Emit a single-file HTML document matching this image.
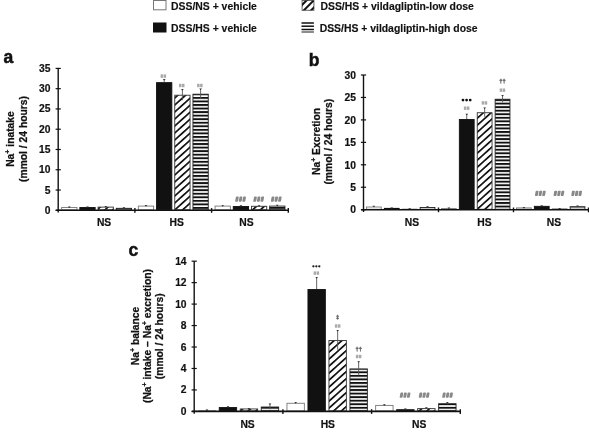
<!DOCTYPE html>
<html><head><meta charset="utf-8"><style>
html,body{margin:0;padding:0;background:#fff;}
body{width:589px;height:432px;overflow:hidden;}
svg{display:block;will-change:transform;}
text{font-family:"Liberation Sans", sans-serif;font-weight:bold;fill:#111;}
.t{font-size:10.3px;stroke:#111;stroke-width:0.2px;}
.L{font-size:10.4px;stroke:#111;stroke-width:0.15px;}
.P{font-size:17.5px;stroke:#111;stroke-width:0.5px;}
.A{font-size:10.3px;stroke:#111;stroke-width:0.25px;}
.S{fill:#666;font-weight:bold;font-style:italic;stroke:#777;stroke-width:0.3px;}
.St{fill:#333;font-weight:bold;}
.M{fill:#555;font-size:5.8px;font-weight:bold;stroke:#666;stroke-width:0.35px;}
</style></head><body>
<svg width="589" height="432" viewBox="0 0 589 432">
<defs>
<pattern id="hatch" patternUnits="userSpaceOnUse" width="10" height="5.2" patternTransform="rotate(-42)"><rect x="0" y="0" width="10" height="1.7" fill="#111"/></pattern><pattern id="hatchA" patternUnits="userSpaceOnUse" width="10" height="5.2" patternTransform="translate(0,2.3) rotate(-42)"><rect x="0" y="0" width="10" height="1.7" fill="#111"/></pattern><pattern id="hatchB" patternUnits="userSpaceOnUse" width="10" height="5.2" patternTransform="translate(0,1.0) rotate(-42)"><rect x="0" y="0" width="10" height="1.7" fill="#111"/></pattern><pattern id="hatchC" patternUnits="userSpaceOnUse" width="10" height="5.2" patternTransform="translate(0,-3.5) rotate(-42)"><rect x="0" y="0" width="10" height="1.7" fill="#111"/></pattern><pattern id="stripeA" patternUnits="userSpaceOnUse" width="10" height="3.55" patternTransform="translate(0,1.1)"><rect x="0" y="0" width="10" height="1.9" fill="#111"/></pattern><pattern id="stripeB" patternUnits="userSpaceOnUse" width="10" height="3.55" patternTransform="translate(0,3.25)"><rect x="0" y="0" width="10" height="1.9" fill="#111"/></pattern><pattern id="stripeC" patternUnits="userSpaceOnUse" width="10" height="3.55" patternTransform="translate(0,2.15)"><rect x="0" y="0" width="10" height="1.9" fill="#111"/></pattern><pattern id="stripe" patternUnits="userSpaceOnUse" width="10" height="3.5"><rect x="0" y="0" width="10" height="1.9" fill="#111"/></pattern><pattern id="hatchL" patternUnits="userSpaceOnUse" width="10" height="4.6" patternTransform="rotate(-45)"><rect x="0" y="0" width="10" height="1.7" fill="#111"/></pattern><pattern id="stripeL" patternUnits="userSpaceOnUse" width="10" height="3.3" patternTransform="translate(0,0.6)"><rect x="0" y="0" width="10" height="1.7" fill="#111"/></pattern>
</defs>
<rect x="61.65" y="207.51" width="15.3" height="2.34" fill="#fff" stroke="#777" stroke-width="0.9"/>
<line x1="69.3" y1="207.26" x2="69.3" y2="206.85" stroke="#555" stroke-width="0.9"/>
<path d="M67.9,206.55 L70.7,206.55 L69.3,208.05 Z" fill="#333"/>
<rect x="79.85" y="207.51" width="15.3" height="2.34" fill="#111" stroke="#111" stroke-width="0.9"/>
<line x1="87.5" y1="207.06" x2="87.5" y2="206.85" stroke="#555" stroke-width="0.9"/>
<path d="M86.1,206.55 L88.9,206.55 L87.5,208.05 Z" fill="#333"/>
<rect x="98.05" y="207.1" width="15.3" height="2.75" fill="url(#hatchA)" stroke="#333" stroke-width="0.9"/>
<line x1="105.7" y1="207.06" x2="105.7" y2="206.25" stroke="#555" stroke-width="0.9"/>
<path d="M104.3,205.95 L107.1,205.95 L105.7,207.45 Z" fill="#333"/>
<rect x="116.25" y="208.32" width="15.3" height="1.53" fill="url(#stripeA)" stroke="#222" stroke-width="0.9"/>
<line x1="123.9" y1="208.27" x2="123.9" y2="207.46" stroke="#555" stroke-width="0.9"/>
<path d="M122.5,207.16 L125.3,207.16 L123.9,208.66 Z" fill="#333"/>
<rect x="138.35" y="206.09" width="15.3" height="3.76" fill="#fff" stroke="#777" stroke-width="0.9"/>
<line x1="146" y1="206.04" x2="146" y2="205.23" stroke="#555" stroke-width="0.9"/>
<path d="M144.6,204.93 L147.4,204.93 L146,206.43 Z" fill="#333"/>
<rect x="156.55" y="82.64" width="15.3" height="127.21" fill="#111" stroke="#111" stroke-width="0.9"/>
<line x1="164.2" y1="82.19" x2="164.2" y2="79.36" stroke="#555" stroke-width="0.9"/>
<path d="M162.8,79.06 L165.6,79.06 L164.2,80.56 Z" fill="#333"/>
<rect x="174.75" y="95.21" width="15.3" height="114.64" fill="url(#hatchA)" stroke="#333" stroke-width="0.9"/>
<line x1="182.4" y1="100.23" x2="182.4" y2="89.29" stroke="#555" stroke-width="0.9"/>
<path d="M181,88.99 L183.8,88.99 L182.4,90.49 Z" fill="#333"/>
<rect x="192.95" y="94.2" width="15.3" height="115.65" fill="url(#stripeA)" stroke="#222" stroke-width="0.9"/>
<line x1="200.6" y1="98.61" x2="200.6" y2="88.88" stroke="#555" stroke-width="0.9"/>
<path d="M199.2,88.58 L202,88.58 L200.6,90.08 Z" fill="#333"/>
<rect x="215.05" y="206.09" width="15.3" height="3.76" fill="#fff" stroke="#777" stroke-width="0.9"/>
<line x1="222.7" y1="205.84" x2="222.7" y2="205.44" stroke="#555" stroke-width="0.9"/>
<path d="M221.3,205.14 L224.1,205.14 L222.7,206.64 Z" fill="#333"/>
<rect x="233.25" y="206.49" width="15.3" height="3.36" fill="#111" stroke="#111" stroke-width="0.9"/>
<line x1="240.9" y1="206.04" x2="240.9" y2="205.64" stroke="#555" stroke-width="0.9"/>
<path d="M239.5,205.34 L242.3,205.34 L240.9,206.84 Z" fill="#333"/>
<rect x="251.45" y="206.29" width="15.3" height="3.56" fill="url(#hatchA)" stroke="#333" stroke-width="0.9"/>
<line x1="259.1" y1="206.25" x2="259.1" y2="205.44" stroke="#555" stroke-width="0.9"/>
<path d="M257.7,205.14 L260.5,205.14 L259.1,206.64 Z" fill="#333"/>
<rect x="269.65" y="206.09" width="15.3" height="3.76" fill="url(#stripeA)" stroke="#222" stroke-width="0.9"/>
<line x1="277.3" y1="206.25" x2="277.3" y2="205.03" stroke="#555" stroke-width="0.9"/>
<path d="M275.9,204.73 L278.7,204.73 L277.3,206.23 Z" fill="#333"/>
<line x1="58.2" y1="68.41" x2="58.2" y2="212.6" stroke="#111" stroke-width="1.4"/>
<line x1="55.7" y1="210.3" x2="288.3" y2="210.3" stroke="#111" stroke-width="1.6"/>
<line x1="134.9" y1="208.1" x2="134.9" y2="212.8" stroke="#111" stroke-width="1.4"/>
<line x1="211.6" y1="208.1" x2="211.6" y2="212.8" stroke="#111" stroke-width="1.4"/>
<line x1="288.3" y1="208.1" x2="288.3" y2="212.8" stroke="#111" stroke-width="1.4"/>
<line x1="55.6" y1="210.3" x2="60.8" y2="210.3" stroke="#111" stroke-width="1.2"/>
<text x="50.5" y="213.8" text-anchor="end" class="t">0</text>
<line x1="55.6" y1="190.03" x2="60.8" y2="190.03" stroke="#111" stroke-width="1.2"/>
<text x="50.5" y="193.53" text-anchor="end" class="t">5</text>
<line x1="55.6" y1="169.76" x2="60.8" y2="169.76" stroke="#111" stroke-width="1.2"/>
<text x="50.5" y="173.26" text-anchor="end" class="t">10</text>
<line x1="55.6" y1="149.49" x2="60.8" y2="149.49" stroke="#111" stroke-width="1.2"/>
<text x="50.5" y="152.99" text-anchor="end" class="t">15</text>
<line x1="55.6" y1="129.22" x2="60.8" y2="129.22" stroke="#111" stroke-width="1.2"/>
<text x="50.5" y="132.72" text-anchor="end" class="t">20</text>
<line x1="55.6" y1="108.95" x2="60.8" y2="108.95" stroke="#111" stroke-width="1.2"/>
<text x="50.5" y="112.45" text-anchor="end" class="t">25</text>
<line x1="55.6" y1="88.68" x2="60.8" y2="88.68" stroke="#111" stroke-width="1.2"/>
<text x="50.5" y="92.18" text-anchor="end" class="t">30</text>
<line x1="55.6" y1="68.41" x2="60.8" y2="68.41" stroke="#111" stroke-width="1.2"/>
<text x="50.5" y="71.91" text-anchor="end" class="t">35</text>
<text x="104.1" y="225.9" text-anchor="middle" class="t">NS</text>
<text x="176.7" y="225.9" text-anchor="middle" class="t">HS</text>
<text x="246.5" y="225.9" text-anchor="middle" class="t">NS</text>
<rect x="366.45" y="207.01" width="14.8" height="2.24" fill="#fff" stroke="#777" stroke-width="0.9"/>
<line x1="373.85" y1="207.01" x2="373.85" y2="206.11" stroke="#555" stroke-width="0.9"/>
<path d="M372.45,205.81 L375.25,205.81 L373.85,207.31 Z" fill="#333"/>
<rect x="384.35" y="208.35" width="14.8" height="0.9" fill="#111" stroke="#111" stroke-width="0.9"/>
<line x1="391.75" y1="207.9" x2="391.75" y2="207.68" stroke="#555" stroke-width="0.9"/>
<path d="M390.35,207.38 L393.15,207.38 L391.75,208.88 Z" fill="#333"/>
<rect x="402.25" y="209.25" width="14.8" height="0.1" fill="url(#hatchB)" stroke="#333" stroke-width="0.9"/>
<line x1="409.65" y1="209.03" x2="409.65" y2="208.58" stroke="#555" stroke-width="0.9"/>
<path d="M408.25,208.28 L411.05,208.28 L409.65,209.78 Z" fill="#333"/>
<rect x="420.15" y="207.46" width="14.8" height="1.79" fill="url(#stripeB)" stroke="#222" stroke-width="0.9"/>
<line x1="427.55" y1="207.46" x2="427.55" y2="206.56" stroke="#555" stroke-width="0.9"/>
<path d="M426.15,206.26 L428.95,206.26 L427.55,207.76 Z" fill="#333"/>
<rect x="441.45" y="208.58" width="14.8" height="0.67" fill="#fff" stroke="#777" stroke-width="0.9"/>
<line x1="448.85" y1="208.35" x2="448.85" y2="207.9" stroke="#555" stroke-width="0.9"/>
<path d="M447.45,207.6 L450.25,207.6 L448.85,209.1 Z" fill="#333"/>
<rect x="459.35" y="119.45" width="14.8" height="89.8" fill="#111" stroke="#111" stroke-width="0.9"/>
<line x1="466.75" y1="119" x2="466.75" y2="114.06" stroke="#555" stroke-width="0.9"/>
<path d="M465.35,113.76 L468.15,113.76 L466.75,115.26 Z" fill="#333"/>
<rect x="477.25" y="112.72" width="14.8" height="96.53" fill="url(#hatchB)" stroke="#333" stroke-width="0.9"/>
<line x1="484.65" y1="116.76" x2="484.65" y2="107.78" stroke="#555" stroke-width="0.9"/>
<path d="M483.25,107.48 L486.05,107.48 L484.65,108.98 Z" fill="#333"/>
<rect x="495.15" y="99.25" width="14.8" height="110" fill="url(#stripeB)" stroke="#222" stroke-width="0.9"/>
<line x1="502.55" y1="102.39" x2="502.55" y2="95.2" stroke="#555" stroke-width="0.9"/>
<path d="M501.15,94.9 L503.95,94.9 L502.55,96.4 Z" fill="#333"/>
<rect x="516.45" y="207.9" width="14.8" height="1.35" fill="#fff" stroke="#777" stroke-width="0.9"/>
<line x1="523.85" y1="207.68" x2="523.85" y2="207.23" stroke="#555" stroke-width="0.9"/>
<path d="M522.45,206.93 L525.25,206.93 L523.85,208.43 Z" fill="#333"/>
<rect x="534.35" y="206.33" width="14.8" height="2.92" fill="#111" stroke="#111" stroke-width="0.9"/>
<line x1="541.75" y1="205.88" x2="541.75" y2="205.66" stroke="#555" stroke-width="0.9"/>
<path d="M540.35,205.36 L543.15,205.36 L541.75,206.86 Z" fill="#333"/>
<rect x="552.25" y="209.03" width="14.8" height="0.22" fill="url(#hatchB)" stroke="#333" stroke-width="0.9"/>
<line x1="559.65" y1="208.8" x2="559.65" y2="208.35" stroke="#555" stroke-width="0.9"/>
<path d="M558.25,208.05 L561.05,208.05 L559.65,209.55 Z" fill="#333"/>
<rect x="570.15" y="206.74" width="14.8" height="2.51" fill="url(#stripeB)" stroke="#222" stroke-width="0.9"/>
<line x1="577.55" y1="206.69" x2="577.55" y2="205.88" stroke="#555" stroke-width="0.9"/>
<path d="M576.15,205.58 L578.95,205.58 L577.55,207.08 Z" fill="#333"/>
<line x1="363.5" y1="75" x2="363.5" y2="212" stroke="#111" stroke-width="1.4"/>
<line x1="361" y1="209.7" x2="588.5" y2="209.7" stroke="#111" stroke-width="1.6"/>
<line x1="438.5" y1="207.5" x2="438.5" y2="212.2" stroke="#111" stroke-width="1.4"/>
<line x1="513.5" y1="207.5" x2="513.5" y2="212.2" stroke="#111" stroke-width="1.4"/>
<line x1="588.5" y1="207.5" x2="588.5" y2="212.2" stroke="#111" stroke-width="1.4"/>
<line x1="360.9" y1="209.7" x2="366.1" y2="209.7" stroke="#111" stroke-width="1.2"/>
<text x="356" y="213.4" text-anchor="end" class="t">0</text>
<line x1="360.9" y1="187.25" x2="366.1" y2="187.25" stroke="#111" stroke-width="1.2"/>
<text x="356" y="190.95" text-anchor="end" class="t">5</text>
<line x1="360.9" y1="164.8" x2="366.1" y2="164.8" stroke="#111" stroke-width="1.2"/>
<text x="356" y="168.5" text-anchor="end" class="t">10</text>
<line x1="360.9" y1="142.35" x2="366.1" y2="142.35" stroke="#111" stroke-width="1.2"/>
<text x="356" y="146.05" text-anchor="end" class="t">15</text>
<line x1="360.9" y1="119.9" x2="366.1" y2="119.9" stroke="#111" stroke-width="1.2"/>
<text x="356" y="123.6" text-anchor="end" class="t">20</text>
<line x1="360.9" y1="97.45" x2="366.1" y2="97.45" stroke="#111" stroke-width="1.2"/>
<text x="356" y="101.15" text-anchor="end" class="t">25</text>
<line x1="360.9" y1="75" x2="366.1" y2="75" stroke="#111" stroke-width="1.2"/>
<text x="356" y="78.7" text-anchor="end" class="t">30</text>
<text x="412" y="225.9" text-anchor="middle" class="t">NS</text>
<text x="484.4" y="225.9" text-anchor="middle" class="t">HS</text>
<text x="553.9" y="225.9" text-anchor="middle" class="t">NS</text>
<rect x="198.25" y="410.78" width="17.4" height="0.17" fill="#fff" stroke="#777" stroke-width="0.9"/>
<line x1="206.95" y1="410.86" x2="206.95" y2="409.79" stroke="#555" stroke-width="0.9"/>
<path d="M205.55,409.49 L208.35,409.49 L206.95,410.99 Z" fill="#333"/>
<rect x="219.25" y="407.56" width="17.4" height="3.39" fill="#111" stroke="#111" stroke-width="0.9"/>
<line x1="227.95" y1="407.11" x2="227.95" y2="406.57" stroke="#555" stroke-width="0.9"/>
<path d="M226.55,406.27 L229.35,406.27 L227.95,407.77 Z" fill="#333"/>
<rect x="240.25" y="408.95" width="17.4" height="2" fill="url(#hatchC)" stroke="#333" stroke-width="0.9"/>
<line x1="248.95" y1="408.82" x2="248.95" y2="408.18" stroke="#555" stroke-width="0.9"/>
<path d="M247.55,407.88 L250.35,407.88 L248.95,409.38 Z" fill="#333"/>
<rect x="261.25" y="407.02" width="17.4" height="3.93" fill="url(#stripeC)" stroke="#222" stroke-width="0.9"/>
<line x1="269.95" y1="409.25" x2="269.95" y2="403.89" stroke="#555" stroke-width="0.9"/>
<path d="M268.55,403.59 L271.35,403.59 L269.95,405.09 Z" fill="#333"/>
<rect x="286.95" y="403.27" width="17.4" height="7.68" fill="#fff" stroke="#777" stroke-width="0.9"/>
<line x1="295.65" y1="403.35" x2="295.65" y2="402.28" stroke="#555" stroke-width="0.9"/>
<path d="M294.25,401.98 L297.05,401.98 L295.65,403.48 Z" fill="#333"/>
<rect x="307.95" y="289.53" width="17.4" height="121.42" fill="#111" stroke="#111" stroke-width="0.9"/>
<line x1="316.65" y1="289.08" x2="316.65" y2="277.27" stroke="#555" stroke-width="0.9"/>
<path d="M315.25,276.97 L318.05,276.97 L316.65,278.47 Z" fill="#333"/>
<rect x="328.95" y="340.5" width="17.4" height="70.45" fill="url(#hatchC)" stroke="#333" stroke-width="0.9"/>
<line x1="337.65" y1="349.7" x2="337.65" y2="330.39" stroke="#555" stroke-width="0.9"/>
<path d="M336.25,330.09 L339.05,330.09 L337.65,331.59 Z" fill="#333"/>
<rect x="349.95" y="368.93" width="17.4" height="42.02" fill="url(#stripeC)" stroke="#222" stroke-width="0.9"/>
<line x1="358.65" y1="375.45" x2="358.65" y2="361.51" stroke="#555" stroke-width="0.9"/>
<path d="M357.25,361.21 L360.05,361.21 L358.65,362.71 Z" fill="#333"/>
<rect x="375.65" y="405.41" width="17.4" height="5.54" fill="#fff" stroke="#777" stroke-width="0.9"/>
<line x1="384.35" y1="405.5" x2="384.35" y2="404.43" stroke="#555" stroke-width="0.9"/>
<path d="M382.95,404.13 L385.75,404.13 L384.35,405.63 Z" fill="#333"/>
<rect x="396.65" y="409.7" width="17.4" height="1.25" fill="#111" stroke="#111" stroke-width="0.9"/>
<line x1="405.35" y1="409.25" x2="405.35" y2="408.72" stroke="#555" stroke-width="0.9"/>
<path d="M403.95,408.42 L406.75,408.42 L405.35,409.92 Z" fill="#333"/>
<rect x="417.65" y="408.63" width="17.4" height="2.32" fill="url(#hatchC)" stroke="#333" stroke-width="0.9"/>
<line x1="426.35" y1="408.72" x2="426.35" y2="407.64" stroke="#555" stroke-width="0.9"/>
<path d="M424.95,407.34 L427.75,407.34 L426.35,408.84 Z" fill="#333"/>
<rect x="438.65" y="403.7" width="17.4" height="7.25" fill="url(#stripeC)" stroke="#222" stroke-width="0.9"/>
<line x1="447.35" y1="404.21" x2="447.35" y2="402.28" stroke="#555" stroke-width="0.9"/>
<path d="M445.95,401.98 L448.75,401.98 L447.35,403.48 Z" fill="#333"/>
<line x1="194.2" y1="261.18" x2="194.2" y2="413.7" stroke="#111" stroke-width="1.4"/>
<line x1="191.7" y1="411.4" x2="460.3" y2="411.4" stroke="#111" stroke-width="1.6"/>
<line x1="282.9" y1="409.2" x2="282.9" y2="413.9" stroke="#111" stroke-width="1.4"/>
<line x1="371.6" y1="409.2" x2="371.6" y2="413.9" stroke="#111" stroke-width="1.4"/>
<line x1="460.3" y1="409.2" x2="460.3" y2="413.9" stroke="#111" stroke-width="1.4"/>
<line x1="191.6" y1="411.4" x2="196.8" y2="411.4" stroke="#111" stroke-width="1.2"/>
<text x="186.6" y="414.9" text-anchor="end" class="t">0</text>
<line x1="191.6" y1="389.94" x2="196.8" y2="389.94" stroke="#111" stroke-width="1.2"/>
<text x="186.6" y="393.44" text-anchor="end" class="t">2</text>
<line x1="191.6" y1="368.48" x2="196.8" y2="368.48" stroke="#111" stroke-width="1.2"/>
<text x="186.6" y="371.98" text-anchor="end" class="t">4</text>
<line x1="191.6" y1="347.02" x2="196.8" y2="347.02" stroke="#111" stroke-width="1.2"/>
<text x="186.6" y="350.52" text-anchor="end" class="t">6</text>
<line x1="191.6" y1="325.56" x2="196.8" y2="325.56" stroke="#111" stroke-width="1.2"/>
<text x="186.6" y="329.06" text-anchor="end" class="t">8</text>
<line x1="191.6" y1="304.1" x2="196.8" y2="304.1" stroke="#111" stroke-width="1.2"/>
<text x="186.6" y="307.6" text-anchor="end" class="t">10</text>
<line x1="191.6" y1="282.64" x2="196.8" y2="282.64" stroke="#111" stroke-width="1.2"/>
<text x="186.6" y="286.14" text-anchor="end" class="t">12</text>
<line x1="191.6" y1="261.18" x2="196.8" y2="261.18" stroke="#111" stroke-width="1.2"/>
<text x="186.6" y="264.68" text-anchor="end" class="t">14</text>
<text x="247.6" y="428" text-anchor="middle" class="t">NS</text>
<text x="327.8" y="428" text-anchor="middle" class="t">HS</text>
<text x="419.2" y="428" text-anchor="middle" class="t">NS</text>
<rect x="153.5" y="0.5" width="12.5" height="9.3" fill="#fff" stroke="#777" stroke-width="1"/>
<rect x="153.5" y="23" width="12.5" height="9" fill="#111" stroke="#111" stroke-width="1"/>
<clipPath id="lgc"><rect x="302.1" y="0.5" width="11.8" height="9.8"/></clipPath>
<rect x="302.1" y="0.5" width="11.8" height="9.8" fill="#fff" stroke="#666" stroke-width="1"/>
<g clip-path="url(#lgc)" stroke="#111" stroke-width="2"><line x1="295" y1="12" x2="309" y2="-2"/><line x1="302.2" y1="12" x2="316.2" y2="-2"/><line x1="309.4" y1="12" x2="323.4" y2="-2"/></g>
<line x1="301.5" y1="23.0" x2="313.9" y2="23.0" stroke="#111" stroke-width="1.5"/>
<line x1="301.5" y1="26.2" x2="313.9" y2="26.2" stroke="#111" stroke-width="1.5"/>
<line x1="301.5" y1="29.5" x2="313.9" y2="29.5" stroke="#111" stroke-width="1.5"/>
<line x1="301.5" y1="32.0" x2="313.9" y2="32.0" stroke="#666" stroke-width="1.5"/>
<text x="171.1" y="9.9" class="L">DSS/NS + vehicle</text>
<text x="171.1" y="31.8" class="L">DSS/HS + vehicle</text>
<text x="320.5" y="9.6" class="L">DSS/HS + vildagliptin-low dose</text>
<text x="319.7" y="31.9" class="L">DSS/HS + vildagliptin-high dose</text>
<text x="3.6" y="62.6" class="P">a</text>
<text x="308.7" y="65.9" class="P">b</text>
<text x="128.5" y="256.2" class="P">c</text>
<text transform="translate(14,139) rotate(-90)" text-anchor="middle" class="A">Na<tspan font-size="7" dy="-4">+</tspan><tspan dy="4"> inatake</tspan></text>
<text transform="translate(26.5,139) rotate(-90)" text-anchor="middle" class="A">(mmol / 24 hours)</text>
<text transform="translate(319.5,141.5) rotate(-90)" text-anchor="middle" class="A">Na<tspan font-size="7" dy="-4">+</tspan><tspan dy="4"> Excretion</tspan></text>
<text transform="translate(331.5,141.7) rotate(-90)" text-anchor="middle" class="A">(mmol / 24 hours)</text>
<text transform="translate(138.5,336) rotate(-90)" text-anchor="middle" class="A">Na<tspan font-size="7" dy="-4">+</tspan><tspan dy="4"> balance</tspan></text>
<text transform="translate(151,336) rotate(-90)" text-anchor="middle" class="A">(Na<tspan font-size="7" dy="-4">+</tspan><tspan dy="4"> intake – Na</tspan><tspan font-size="7" dy="-4">+</tspan><tspan dy="4"> excretion)</tspan></text>
<text transform="translate(163,336.3) rotate(-90)" text-anchor="middle" class="A">(mmol / 24 hours)</text>
<rect x="160.6" y="74.4" width="2.5" height="3.4" fill="#aaa"/>
<rect x="163.6" y="74.4" width="2.5" height="3.4" fill="#aaa"/>
<rect x="179" y="83.8" width="2.5" height="3.4" fill="#aaa"/>
<rect x="182" y="83.8" width="2.5" height="3.4" fill="#aaa"/>
<rect x="197.1" y="83.8" width="2.5" height="3.4" fill="#aaa"/>
<rect x="200.1" y="83.8" width="2.5" height="3.4" fill="#aaa"/>
<rect x="235.5" y="196.6" width="2.9" height="5.2" rx="0.8" fill="#888" transform="translate(236.95,199.2) skewX(-10) translate(-236.95,-199.2)"/>
<rect x="239.1" y="196.6" width="2.9" height="5.2" rx="0.8" fill="#888" transform="translate(240.55,199.2) skewX(-10) translate(-240.55,-199.2)"/>
<rect x="242.7" y="196.6" width="2.9" height="5.2" rx="0.8" fill="#888" transform="translate(244.15,199.2) skewX(-10) translate(-244.15,-199.2)"/>
<rect x="253.6" y="196.6" width="2.9" height="5.2" rx="0.8" fill="#888" transform="translate(255.05,199.2) skewX(-10) translate(-255.05,-199.2)"/>
<rect x="257.2" y="196.6" width="2.9" height="5.2" rx="0.8" fill="#888" transform="translate(258.65,199.2) skewX(-10) translate(-258.65,-199.2)"/>
<rect x="260.8" y="196.6" width="2.9" height="5.2" rx="0.8" fill="#888" transform="translate(262.25,199.2) skewX(-10) translate(-262.25,-199.2)"/>
<rect x="271.2" y="196.6" width="2.9" height="5.2" rx="0.8" fill="#888" transform="translate(272.65,199.2) skewX(-10) translate(-272.65,-199.2)"/>
<rect x="274.8" y="196.6" width="2.9" height="5.2" rx="0.8" fill="#888" transform="translate(276.25,199.2) skewX(-10) translate(-276.25,-199.2)"/>
<rect x="278.4" y="196.6" width="2.9" height="5.2" rx="0.8" fill="#888" transform="translate(279.85,199.2) skewX(-10) translate(-279.85,-199.2)"/>
<circle cx="463.0" cy="100.1" r="1.4" fill="#111"/>
<circle cx="466.6" cy="100.1" r="1.4" fill="#111"/>
<circle cx="470.2" cy="100.1" r="1.4" fill="#111"/>
<rect x="463.9" y="106.5" width="2.5" height="3.4" fill="#aaa"/>
<rect x="466.9" y="106.5" width="2.5" height="3.4" fill="#aaa"/>
<rect x="481.7" y="101.2" width="2.5" height="3.4" fill="#aaa"/>
<rect x="484.7" y="101.2" width="2.5" height="3.4" fill="#aaa"/>
<rect x="499.7" y="88.5" width="2.5" height="3.4" fill="#aaa"/>
<rect x="502.7" y="88.5" width="2.5" height="3.4" fill="#aaa"/>
<text x="502.5" y="83.2" text-anchor="middle" class="M">††</text>
<rect x="535.3" y="190.8" width="2.9" height="5.2" rx="0.8" fill="#888" transform="translate(536.75,193.4) skewX(-10) translate(-536.75,-193.4)"/>
<rect x="538.9" y="190.8" width="2.9" height="5.2" rx="0.8" fill="#888" transform="translate(540.35,193.4) skewX(-10) translate(-540.35,-193.4)"/>
<rect x="542.5" y="190.8" width="2.9" height="5.2" rx="0.8" fill="#888" transform="translate(543.95,193.4) skewX(-10) translate(-543.95,-193.4)"/>
<rect x="553.9" y="190.8" width="2.9" height="5.2" rx="0.8" fill="#888" transform="translate(555.35,193.4) skewX(-10) translate(-555.35,-193.4)"/>
<rect x="557.5" y="190.8" width="2.9" height="5.2" rx="0.8" fill="#888" transform="translate(558.95,193.4) skewX(-10) translate(-558.95,-193.4)"/>
<rect x="561.1" y="190.8" width="2.9" height="5.2" rx="0.8" fill="#888" transform="translate(562.55,193.4) skewX(-10) translate(-562.55,-193.4)"/>
<rect x="571.6" y="190.8" width="2.9" height="5.2" rx="0.8" fill="#888" transform="translate(573.05,193.4) skewX(-10) translate(-573.05,-193.4)"/>
<rect x="575.2" y="190.8" width="2.9" height="5.2" rx="0.8" fill="#888" transform="translate(576.65,193.4) skewX(-10) translate(-576.65,-193.4)"/>
<rect x="578.8" y="190.8" width="2.9" height="5.2" rx="0.8" fill="#888" transform="translate(580.25,193.4) skewX(-10) translate(-580.25,-193.4)"/>
<circle cx="313.4" cy="266.3" r="1.15" fill="#1a1a1a"/>
<circle cx="316.35" cy="266.3" r="1.15" fill="#1a1a1a"/>
<circle cx="319.3" cy="266.3" r="1.15" fill="#1a1a1a"/>
<rect x="313.6" y="271.4" width="2.5" height="3.4" fill="#aaa"/>
<rect x="316.6" y="271.4" width="2.5" height="3.4" fill="#aaa"/>
<text x="337.7" y="319.4" text-anchor="middle" class="M" font-size="7" fill="#555" style="fill:#555">‡</text>
<rect x="334.9" y="324.3" width="2.5" height="3.4" fill="#aaa"/>
<rect x="337.9" y="324.3" width="2.5" height="3.4" fill="#aaa"/>
<text x="358.7" y="350.6" text-anchor="middle" class="M">††</text>
<rect x="355.9" y="354.8" width="2.5" height="3.4" fill="#aaa"/>
<rect x="358.9" y="354.8" width="2.5" height="3.4" fill="#aaa"/>
<rect x="400" y="392.6" width="2.9" height="5.2" rx="0.8" fill="#888" transform="translate(401.45,395.2) skewX(-10) translate(-401.45,-395.2)"/>
<rect x="403.6" y="392.6" width="2.9" height="5.2" rx="0.8" fill="#888" transform="translate(405.05,395.2) skewX(-10) translate(-405.05,-395.2)"/>
<rect x="407.2" y="392.6" width="2.9" height="5.2" rx="0.8" fill="#888" transform="translate(408.65,395.2) skewX(-10) translate(-408.65,-395.2)"/>
<rect x="419.1" y="392.6" width="2.9" height="5.2" rx="0.8" fill="#888" transform="translate(420.55,395.2) skewX(-10) translate(-420.55,-395.2)"/>
<rect x="422.7" y="392.6" width="2.9" height="5.2" rx="0.8" fill="#888" transform="translate(424.15,395.2) skewX(-10) translate(-424.15,-395.2)"/>
<rect x="426.3" y="392.6" width="2.9" height="5.2" rx="0.8" fill="#888" transform="translate(427.75,395.2) skewX(-10) translate(-427.75,-395.2)"/>
<rect x="442.5" y="392.6" width="2.9" height="5.2" rx="0.8" fill="#888" transform="translate(443.95,395.2) skewX(-10) translate(-443.95,-395.2)"/>
<rect x="446.1" y="392.6" width="2.9" height="5.2" rx="0.8" fill="#888" transform="translate(447.55,395.2) skewX(-10) translate(-447.55,-395.2)"/>
<rect x="449.7" y="392.6" width="2.9" height="5.2" rx="0.8" fill="#888" transform="translate(451.15,395.2) skewX(-10) translate(-451.15,-395.2)"/>
</svg>
</body></html>
